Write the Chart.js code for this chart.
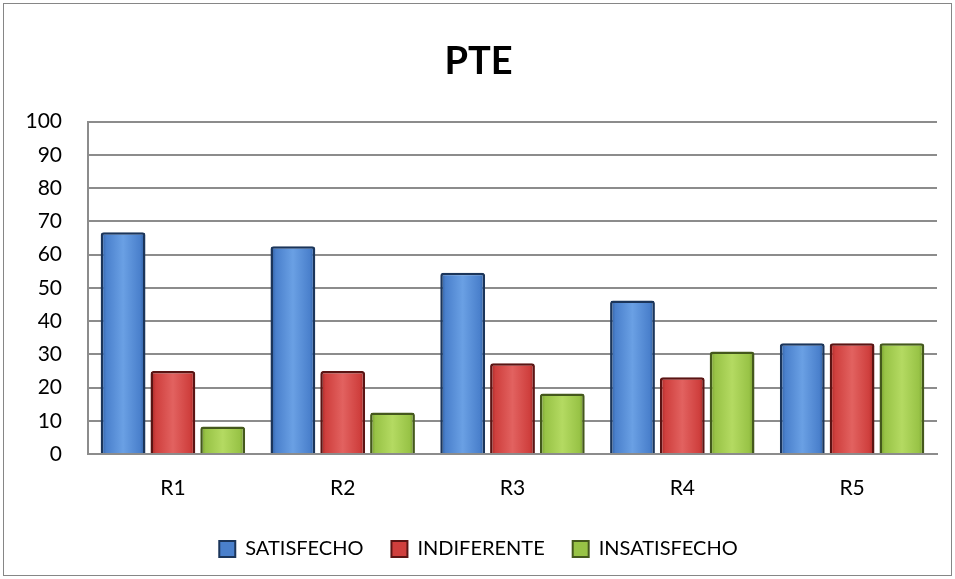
<!DOCTYPE html>
<html>
<head>
<meta charset="utf-8">
<script src="https://cdn.jsdelivr.net/npm/chart.js@4/dist/chart.umd.min.js"></script>
<style>
  html, body { margin: 0; padding: 0; background: #fff; }
  #frame { position: absolute; left: 3px; top: 3px; width: 947px; height: 571px; border: 1px solid #868686; }
  #wrap { position: absolute; left: 0; top: 0; width: 955px; height: 579px; }
</style>
</head>
<body>
<div id="frame"></div>
<div id="wrap"><canvas id="pteChart"></canvas></div>
<script>
// categories and series
const categories = ['R1', 'R2', 'R3', 'R4', 'R5'];
const satisfecho = [66.7, 62.5, 54.5, 46.2, 33.3];
const indiferente = [25.0, 25.0, 27.3, 23.1, 33.3];
const insatisfecho = [8.3, 12.5, 18.2, 30.8, 33.3];
const yTicks = [0, 10, 20, 30, 40, 50, 60, 70, 80, 90, 100];

const FONT = 'Lato, "Open Sans", sans-serif';

// light / mid / dark tones for the bevel shading, per series
const shades = [
    ['#6aa0e4', '#4a80cc', '#2d5a99'],
    ['#e26260', '#cf3f3d', '#9e2523'],
    ['#b4da62', '#98c346', '#71962e']
];
const borders = ['#1b355a', '#5a1413', '#44581c'];

// shade each bar horizontally once the library has placed it
const bevelPlugin = {
    id: 'bevel',
    beforeDatasetsDraw(chart) {
        const c = chart.ctx;
        chart.data.datasets.forEach((ds, i) => {
            const s = shades[i];
            chart.getDatasetMeta(i).data.forEach(el => {
                const x0 = el.x - el.width / 2;
                const g = c.createLinearGradient(x0, 0, x0 + el.width, 0);
                g.addColorStop(0, s[2]);
                g.addColorStop(0.12, s[1]);
                g.addColorStop(0.5, s[0]);
                g.addColorStop(0.88, s[1]);
                g.addColorStop(1, s[2]);
                el.options.backgroundColor = g;
            });
        });
    }
};

function initPteChart() {
    const ctx = document.getElementById('pteChart').getContext('2d');

    new Chart(ctx, {
        type: 'bar',
        data: {
            labels: categories,
            datasets: [
                {
                    label: 'SATISFECHO',
                    data: satisfecho,
                    backgroundColor: () => shades[0][1],
                    borderColor: borders[0],
                    borderWidth: 2.5,
                    borderRadius: 3
                },
                {
                    label: 'INDIFERENTE',
                    data: indiferente,
                    backgroundColor: () => shades[1][1],
                    borderColor: borders[1],
                    borderWidth: 2.5,
                    borderRadius: 3
                },
                {
                    label: 'INSATISFECHO',
                    data: insatisfecho,
                    backgroundColor: () => shades[2][1],
                    borderColor: borders[2],
                    borderWidth: 2.5,
                    borderRadius: 3
                }
            ]
        },
        plugins: [bevelPlugin],
        options: {
            responsive: true,
            maintainAspectRatio: false,
            animation: false,
            categoryPercentage: 0.88,
            barPercentage: 0.9,
            layout: { padding: { left: 20, right: 18, top: 0, bottom: 10 } },
            plugins: {
                title: {
                    display: true,
                    text: 'PTE',
                    color: '#000',
                    font: { family: FONT, size: 38, weight: 'bold' },
                    padding: { top: 39, bottom: 37 }
                },
                legend: {
                    position: 'bottom',
                    labels: {
                        color: '#000',
                        font: { family: FONT, size: 20 },
                        boxWidth: 16,
                        boxHeight: 16,
                        padding: 28,
                        generateLabels: function (chart) {
                            return chart.data.datasets.map((ds, i) => ({
                                text: ds.label,
                                fillStyle: shades[i][1],
                                strokeStyle: borders[i],
                                lineWidth: 2,
                                datasetIndex: i,
                                hidden: false
                            }));
                        }
                    }
                },
                tooltip: { enabled: false }
            },
            scales: {
                x: {
                    grid: { display: false, drawTicks: false },
                    border: { display: true, color: '#8c8c8c', width: 2 },
                    ticks: {
                        color: '#000',
                        font: { family: FONT, size: 21 },
                        padding: 22
                    },
                    afterFit: function (s) { s.height = 57; }
                },
                y: {
                    min: 0,
                    max: 100,
                    afterBuildTicks: function (s) {
                        s.ticks = yTicks.map(v => ({ value: v }));
                    },
                    grid: { color: '#8c8c8c', lineWidth: 2, drawTicks: false },
                    border: { display: true, color: '#8c8c8c', width: 2 },
                    ticks: {
                        color: '#000',
                        font: { family: FONT, size: 21 },
                        padding: 26
                    },
                    afterFit: function (s) { s.width = 68; }
                }
            }
        }
    });
}

initPteChart();
</script>
</body>
</html>
